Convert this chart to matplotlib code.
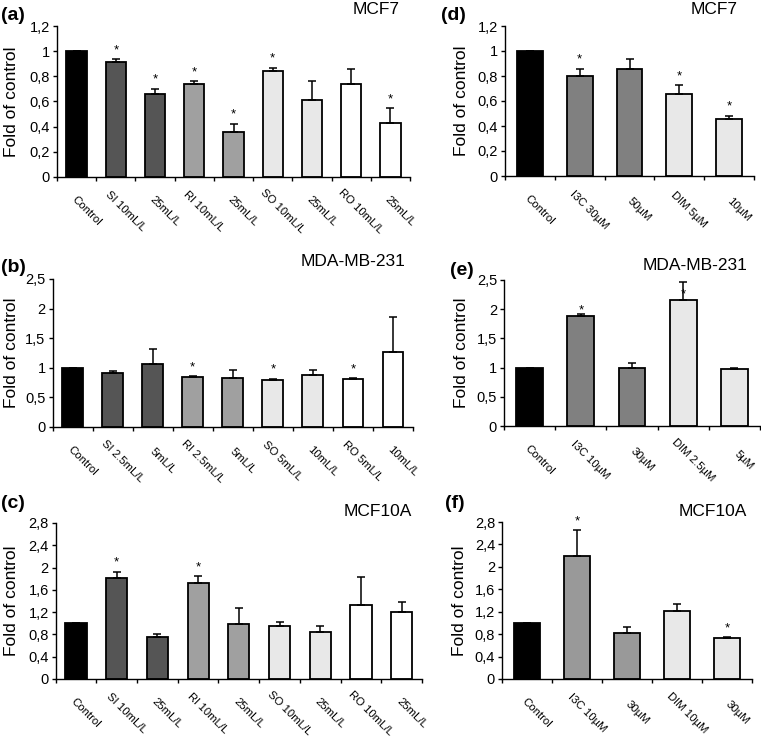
import matplotlib
matplotlib.use("Agg")
import matplotlib.pyplot as plt
import numpy as np

plt.rcParams.update({
    "font.family": ["Liberation Sans", "DejaVu Sans"],
    "axes.linewidth": 1.0,
    "xtick.major.width": 1.0,
    "ytick.major.width": 1.0,
})

BLACK = "#000000"
DARK = "#555555"
MID = "#a0a0a0"
GREY = "#808080"
LIGHT = "#e8e8e8"
WHITE = "#ffffff"

# ---- data ----
a_labels = ["Control", "SI 10mL/L", "25mL/L", "RI 10mL/L", "25mL/L", "SO 10mL/L", "25mL/L", "RO 10mL/L", "25mL/L"]
a_values = [1.0, 0.91, 0.66, 0.74, 0.36, 0.84, 0.61, 0.74, 0.43]
a_errors = [0, 0.025, 0.04, 0.02, 0.06, 0.025, 0.15, 0.12, 0.115]
a_sig = [0, 1, 1, 1, 1, 1, 0, 0, 1]

b_labels = ["Control", "SI 2.5mL/L", "5mL/L", "RI 2.5mL/L", "5mL/L", "SO 5mL/L", "10mL/L", "RO 5mL/L", "10mL/L"]
b_values = [1.0, 0.91, 1.07, 0.85, 0.82, 0.79, 0.88, 0.81, 1.27]
b_errors = [0, 0.035, 0.24, 0.005, 0.14, 0.025, 0.09, 0.01, 0.58]
b_sig = [0, 0, 0, 1, 0, 1, 0, 1, 0]

c_labels = ["Control", "SI 10mL/L", "25mL/L", "RI 10mL/L", "25mL/L", "SO 10mL/L", "25mL/L", "RO 10mL/L", "25mL/L"]
c_values = [1.0, 1.81, 0.76, 1.73, 0.99, 0.96, 0.85, 1.32, 1.2]
c_errors = [0, 0.11, 0.04, 0.11, 0.29, 0.06, 0.10, 0.51, 0.18]
c_sig = [0, 1, 0, 1, 0, 0, 0, 0, 0]

d_labels = ["Control", "I3C 30µM", "50µM", "DIM 5µM", "10µM"]
d_values = [1.0, 0.80, 0.86, 0.655, 0.455]
d_errors = [0, 0.06, 0.077, 0.07, 0.025]
d_sig = [0, 1, 0, 1, 1]

e_labels = ["Control", "I3C 10µM", "30µM", "DIM 2.5µM", "5µM"]
e_values = [1.0, 1.875, 0.99, 2.15, 0.975]
e_errors = [0, 0.035, 0.095, 0.32, 0.015]
e_sig = [0, 1, 0, 1, 0]

f_labels = ["Control", "I3C 10µM", "30µM", "DIM 10µM", "30µM"]
f_values = [1.0, 2.2, 0.82, 1.21, 0.74]
f_errors = [0, 0.45, 0.10, 0.12, 0.005]
f_sig = [0, 1, 0, 0, 1]

oil_colors = [BLACK, DARK, DARK, MID, MID, LIGHT, LIGHT, WHITE, WHITE]

W, H = 761, 736
fig = plt.figure(figsize=(W / 100, H / 100), dpi=100)


def px_axes(left, right, top, bottom):
    return fig.add_axes([left / W, 1 - bottom / H, (right - left) / W, (bottom - top) / H])


def fmt(v):
    s = f"{v:.1f}"
    if s.endswith(".0"):
        s = s[:-2]
    return s.replace(".", ",")


def panel(box, labels, values, errors, sig, colors, ymax, ystep,
          tag, tag_xy, title, title_xy, ylab_x, star_on_bar=False):
    ax = px_axes(*box)
    n = len(values)
    x = np.arange(n)
    ax.bar(x, values, width=0.52, color=colors, edgecolor="black", linewidth=1.3, zorder=2)
    ax.errorbar(x, values, yerr=[np.zeros(n), errors], fmt="none", ecolor="black",
                elinewidth=1.1, capsize=2.6, capthick=1.1, zorder=3)
    for i in range(n):
        if sig[i]:
            if star_on_bar:
                y, off = values[i], 2
            else:
                y, off = values[i] + errors[i], 4.5
            ax.annotate("*", xy=(x[i], y), xytext=(0, off), textcoords="offset points",
                        ha="center", va="baseline", fontsize=9.5, annotation_clip=False)
    ax.set_xlim(-0.5, n - 0.5)
    ax.set_ylim(0, ymax)
    ticks = np.arange(0, ymax + 1e-9, ystep)
    ax.set_yticks(ticks)
    ax.set_yticklabels([fmt(t) for t in ticks], fontsize=10.5)
    ax.tick_params(axis="y", direction="out", length=3, pad=2)
    ax.set_xticks(np.arange(-0.5, n, 1.0))
    ax.set_xticklabels([])
    ax.tick_params(axis="x", direction="out", length=3)
    ax.spines[["top", "right"]].set_visible(False)
    for i, lab in enumerate(labels):
        ax.annotate(lab, xy=(x[i], 0), xycoords=("data", "axes fraction"),
                    xytext=(7, -24.5), textcoords="offset points", rotation=-45,
                    rotation_mode="anchor", ha="center", va="center", fontsize=8.2)
    cy = (box[2] + box[3]) / 2
    fig.text(ylab_x / W, 1 - cy / H, "Fold of control", rotation=90,
             ha="center", va="center", fontsize=12.5)
    fig.text(tag_xy[0] / W, 1 - tag_xy[1] / H, tag, ha="left", va="center",
             fontsize=14, fontweight="bold")
    fig.text(title_xy[0] / W, 1 - title_xy[1] / H, title, ha="right", va="center",
             fontsize=12.5)
    return ax


panel((57, 410, 26, 177), a_labels, a_values, a_errors, a_sig, oil_colors, 1.2, 0.2,
      "(a)", (1, 16), "MCF7", (400, 10), 12)
panel((52.5, 413, 279, 427), b_labels, b_values, b_errors, b_sig, oil_colors, 2.5, 0.5,
      "(b)", (1, 268), "MDA-MB-231", (405, 261), 12)
panel((55.6, 422, 523, 679), c_labels, c_values, c_errors, c_sig, oil_colors, 2.8, 0.4,
      "(c)", (1, 503), "MCF10A", (412, 511), 12)

ind_d = [BLACK, GREY, GREY, LIGHT, LIGHT]
ind_f = [BLACK, "#999999", "#999999", LIGHT, LIGHT]
panel((505, 754, 26, 176), d_labels, d_values, d_errors, d_sig, ind_d, 1.2, 0.2,
      "(d)", (441, 16), "MCF7", (738, 10), 462)
panel((504, 760, 280, 426), e_labels, e_values, e_errors, e_sig, ind_d, 2.5, 0.5,
      "(e)", (450, 271), "MDA-MB-231", (747, 266), 462, star_on_bar=True)
panel((502, 752, 522, 679), f_labels, f_values, f_errors, f_sig, ind_f, 2.8, 0.4,
      "(f)", (445, 503), "MCF10A", (747, 511), 459)

fig.savefig("out.png", dpi=100)
